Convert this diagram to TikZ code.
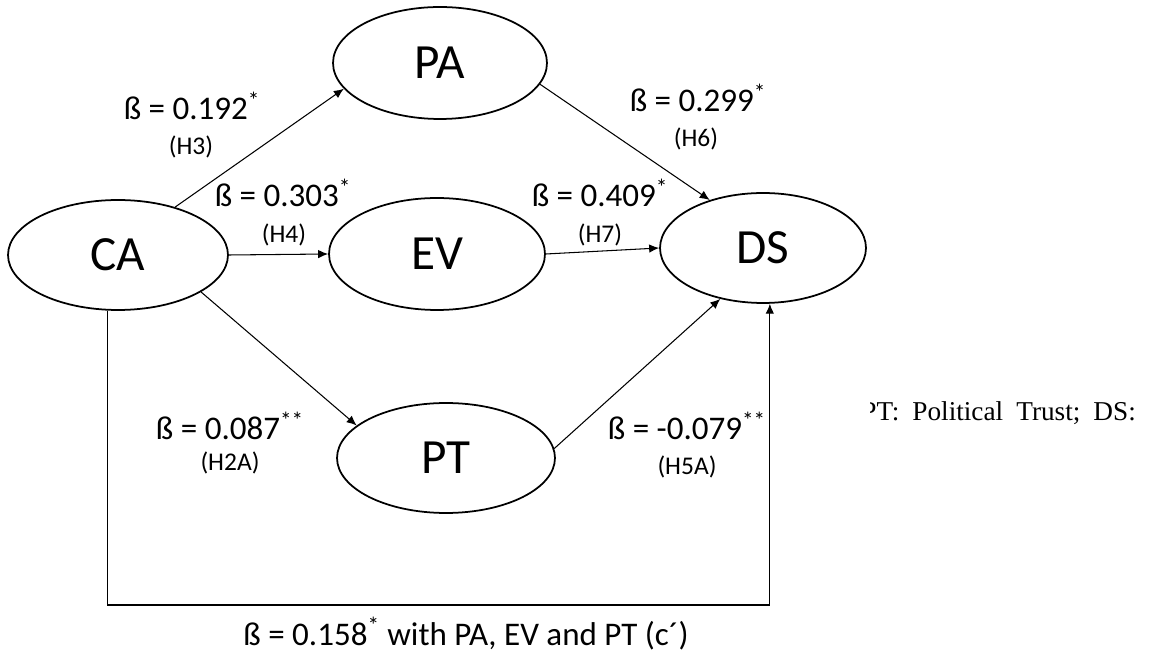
\documentclass[tikz,border=0pt]{standalone}
\usepackage{fontspec}
\setmainfont{Carlito}
\newfontfamily\timesfont{Liberation Serif}
\usetikzlibrary{shapes.geometric,arrows.meta}
\begin{document}
\begin{tikzpicture}[x=0.02cm,y=-0.02cm,
  latent/.style={ellipse,draw,line width=1pt,inner sep=0pt,font=\fontsize{28}{30}\selectfont},
  effect/.style={line width=0.6pt,-{Latex[length=2mm,width=1.7mm]}},
  beta/.style={anchor=base,inner sep=0pt,font=\fontsize{18.8}{20}\selectfont},
  hyp/.style={anchor=base,inner sep=0pt,font=\fontsize{14.5}{16}\selectfont}]
\useasboundingbox (0,0) rectangle (1159,671);
\node[latent,minimum width=4.4cm,minimum height=2.2cm] (CA) at (118,255) {CA};
\node[latent,minimum width=4.28cm,minimum height=2.24cm] (PA) at (440,63) {PA};
\node[latent,minimum width=4.32cm,minimum height=2.24cm] (EV) at (437,254) {EV};
\node[latent,minimum width=4.36cm,minimum height=2.2cm] (PT) at (446,458) {PT};
\node[latent,minimum width=4.12cm,minimum height=2.2cm] (DS) at (763,248) {DS};
\draw[effect] (CA.40) -- (PA.195);
\draw[effect] (CA.east) -- (EV.west);
\draw[effect] (CA.336) -- (PT.160);
\draw[effect] (PA.348) -- (DS.138);
\draw[effect] (EV.east) -- (DS.west);
\draw[effect] (PT.5) -- (DS.230);
\coordinate (loop) at (0,605);
\draw[effect] (CA.259) -- (CA.259 |- loop) -| (DS.277);
\node[beta] (b3) at (192,120) {ß = 0.192\textsuperscript{*}};
\node[hyp] (h3) at (191,155) {(H3)};
\node[beta] (b4) at (283,207) {ß = 0.303\textsuperscript{*}};
\node[hyp] (h4) at (284,243) {(H4)};
\node[beta] (b2a) at (230,440) {ß = 0.087\textsuperscript{**}};
\node[hyp] (h2a) at (230,471) {(H2A)};
\node[beta] (b6) at (698,112) {ß = 0.299\textsuperscript{*}};
\node[hyp] (h6) at (696,147) {(H6)};
\node[beta] (b7) at (600,207) {ß = 0.409\textsuperscript{*}};
\node[hyp] (h7) at (600,243) {(H7)};
\node[beta] (b5a) at (687,440) {ß = -0.079\textsuperscript{**}};
\node[hyp] (h5a) at (687,475) {(H5A)};
\node[beta] (total) at (466,645) {ß = 0.158\textsuperscript{*} with PA, EV and PT (c´)};
\begin{scope}
\clip (870,380) rectangle (1159,440);
\node[anchor=base west,inner sep=0pt,font=\timesfont\fontsize{15.5}{17}\selectfont] (key) at (861,421) {\spaceskip=0.48em PT: Political Trust; DS:};
\end{scope}
\end{tikzpicture}
\end{document}
